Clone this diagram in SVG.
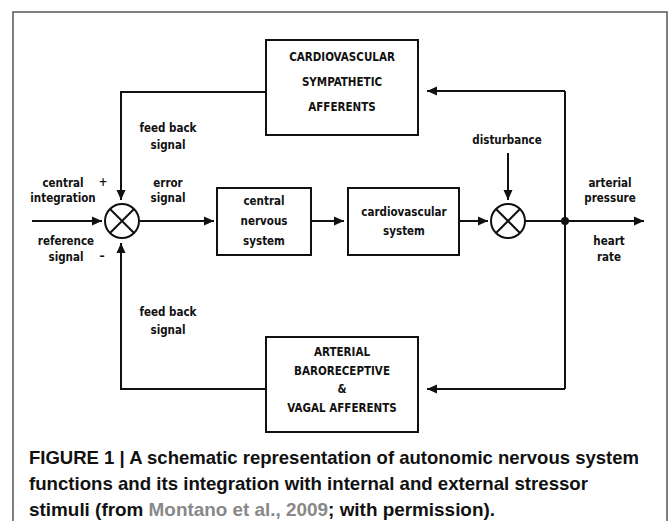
<svg xmlns="http://www.w3.org/2000/svg" width="671" height="521" viewBox="0 0 671 521">
<style>
.bx{fill:#fff;stroke:#111;stroke-width:2}
.ln{fill:none;stroke:#111;stroke-width:2}
.t{font-family:"DejaVu Sans","Liberation Sans",sans-serif;font-stretch:condensed;font-weight:bold;font-size:11.5px;fill:#111;text-anchor:middle}
.cap{font-family:"Liberation Sans","Arial",sans-serif;font-weight:bold;font-size:18.5px;fill:#111}
.ref{fill:#888}
</style>
<defs>
<marker id="ah" markerUnits="userSpaceOnUse" markerWidth="12" markerHeight="10" refX="10" refY="5" orient="auto">
<path d="M0,0.5 L10,5 L0,9.5 Z" fill="#111"/>
</marker>
</defs>
<rect width="671" height="521" fill="#fff"/>
<path d="M13,530 V12 H667 V530" fill="none" stroke="#555" stroke-width="1.5"/>

<g id="connectors">
<path class="ln" d="M266,92 H121 V200" marker-end="url(#ah)"/>
<path class="ln" d="M266,389 H121 V243" marker-end="url(#ah)"/>
<path class="ln" d="M32,221 H102" marker-end="url(#ah)"/>
<path class="ln" d="M140,221 H214" marker-end="url(#ah)"/>
<path class="ln" d="M311,221 H344" marker-end="url(#ah)"/>
<path class="ln" d="M459,221 H488" marker-end="url(#ah)"/>
<path class="ln" d="M508,153 V200" marker-end="url(#ah)"/>
<path class="ln" d="M525,221 H644" marker-end="url(#ah)"/>
<path class="ln" d="M565,91 V389"/>
<path class="ln" d="M565,91 H427" marker-end="url(#ah)"/>
<path class="ln" d="M565,389 H427" marker-end="url(#ah)"/>
<circle cx="565" cy="221" r="4" fill="#111"/>
</g>

<g id="sum1">
<circle class="ln" cx="122" cy="221" r="17"/>
<path class="ln" d="M110,209 L134,233 M134,209 L110,233"/>
</g>
<g id="sum2">
<circle class="ln" cx="508" cy="221" r="17"/>
<path class="ln" d="M496,209 L520,233 M520,209 L496,233"/>
</g>

<g id="sympathetic">
<rect class="bx" x="266" y="40" width="152" height="95"/>
<text class="t" x="342" y="61">CARDIOVASCULAR</text>
<text class="t" x="342" y="86">SYMPATHETIC</text>
<text class="t" x="342" y="111">AFFERENTS</text>
</g>
<g id="baroreceptive">
<rect class="bx" x="266" y="337" width="152" height="95"/>
<text class="t" x="342" y="356">ARTERIAL</text>
<text class="t" x="342" y="375">BARORECEPTIVE</text>
<text class="t" x="342" y="393">&amp;</text>
<text class="t" x="342" y="412">VAGAL AFFERENTS</text>
</g>
<g id="cns">
<rect class="bx" x="217" y="188" width="94" height="67"/>
<text class="t" x="264" y="205">central</text>
<text class="t" x="264" y="225">nervous</text>
<text class="t" x="264" y="245">system</text>
</g>
<g id="cvs">
<rect class="bx" x="348" y="188" width="111" height="67"/>
<text class="t" x="404" y="216">cardiovascular</text>
<text class="t" x="404" y="235">system</text>
</g>

<g id="labels">
<text class="t" x="168" y="132">feed back</text>
<text class="t" x="168" y="149">signal</text>
<text class="t" x="168" y="316">feed back</text>
<text class="t" x="168" y="334">signal</text>
<text class="t" x="63" y="187">central</text>
<text class="t" x="63" y="202">integration</text>
<text class="t" x="103" y="186">+</text>
<text class="t" x="66" y="245">reference</text>
<text class="t" x="66" y="261">signal</text>
<text class="t" x="102" y="260">–</text>
<text class="t" x="168" y="187">error</text>
<text class="t" x="168" y="202">signal</text>
<text class="t" x="507" y="144">disturbance</text>
<text class="t" x="610" y="187">arterial</text>
<text class="t" x="610" y="202">pressure</text>
<text class="t" x="609" y="245">heart</text>
<text class="t" x="609" y="261">rate</text>
</g>

<g id="caption">
<text class="cap" x="29" y="464" textLength="610" lengthAdjust="spacingAndGlyphs">FIGURE 1 | A schematic representation of autonomic nervous system</text>
<text class="cap" x="29" y="490" textLength="559" lengthAdjust="spacingAndGlyphs">functions and its integration with internal and external stressor</text>
<text class="cap" x="29" y="516" textLength="466" lengthAdjust="spacingAndGlyphs">stimuli (from <tspan class="ref">Montano et al., 2009</tspan>; with permission).</text>
</g>
</svg>
